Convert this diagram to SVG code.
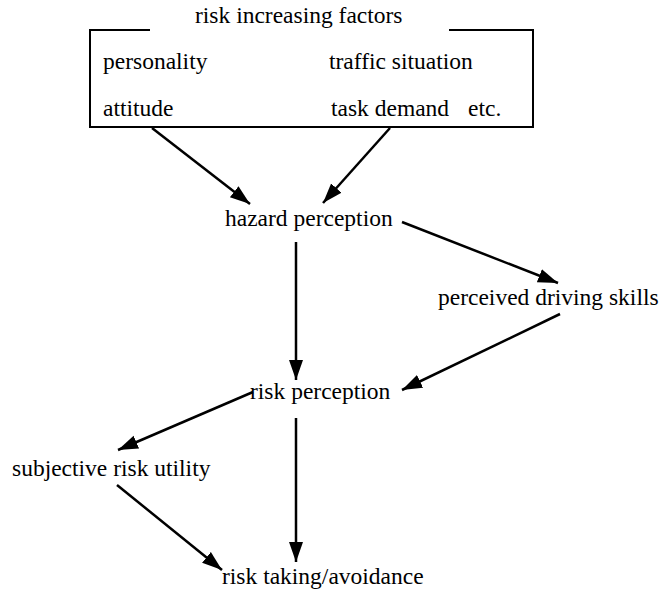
<svg xmlns="http://www.w3.org/2000/svg" width="662" height="590" viewBox="0 0 662 590">
<style>
text{font-family:"Liberation Serif","Times New Roman","DejaVu Serif",serif;font-size:23.5px;fill:#000}
.ln{stroke:#000;stroke-width:2.5;fill:none}
.bx{stroke:#000;stroke-width:2;fill:none}
</style>
<defs>
<marker id="ah" markerUnits="userSpaceOnUse" markerWidth="22" markerHeight="16" refX="20" refY="7" orient="auto">
<path d="M0,0 L20,7 L0,14 z" fill="#000"/>
</marker>
</defs>
<rect width="662" height="590" fill="#fff"/>
<g id="factors">
<path class="bx" d="M150,30 L90,30 L90,127 L533,127 L533,30 L449,30"/>
<text x="195" y="23">risk increasing factors</text>
<text x="103" y="69">personality</text>
<text x="329" y="69">traffic situation</text>
<text x="103" y="116">attitude</text>
<text x="331" y="116">task demand</text>
<text x="468" y="116">etc.</text>
</g>
<g id="hazard"><text x="225" y="226">hazard perception</text></g>
<g id="skills"><text x="438" y="305">perceived driving skills</text></g>
<g id="riskperc"><text x="250" y="399">risk perception</text></g>
<g id="utility"><text x="12" y="476">subjective risk utility</text></g>
<g id="taking"><text x="222" y="584">risk taking/avoidance</text></g>
<g id="connectors">
<line class="ln" x1="152" y1="128" x2="250" y2="204" marker-end="url(#ah)"/>
<line class="ln" x1="390" y1="128" x2="323" y2="203" marker-end="url(#ah)"/>
<line class="ln" x1="402" y1="222" x2="558" y2="283" marker-end="url(#ah)"/>
<line class="ln" x1="296" y1="242" x2="296" y2="380" marker-end="url(#ah)"/>
<line class="ln" x1="560" y1="314" x2="402" y2="390" marker-end="url(#ah)"/>
<line class="ln" x1="253" y1="392" x2="118" y2="450" marker-end="url(#ah)"/>
<line class="ln" x1="117" y1="485" x2="222" y2="570" marker-end="url(#ah)"/>
<line class="ln" x1="296" y1="418" x2="296" y2="562" marker-end="url(#ah)"/>
</g>
</svg>
